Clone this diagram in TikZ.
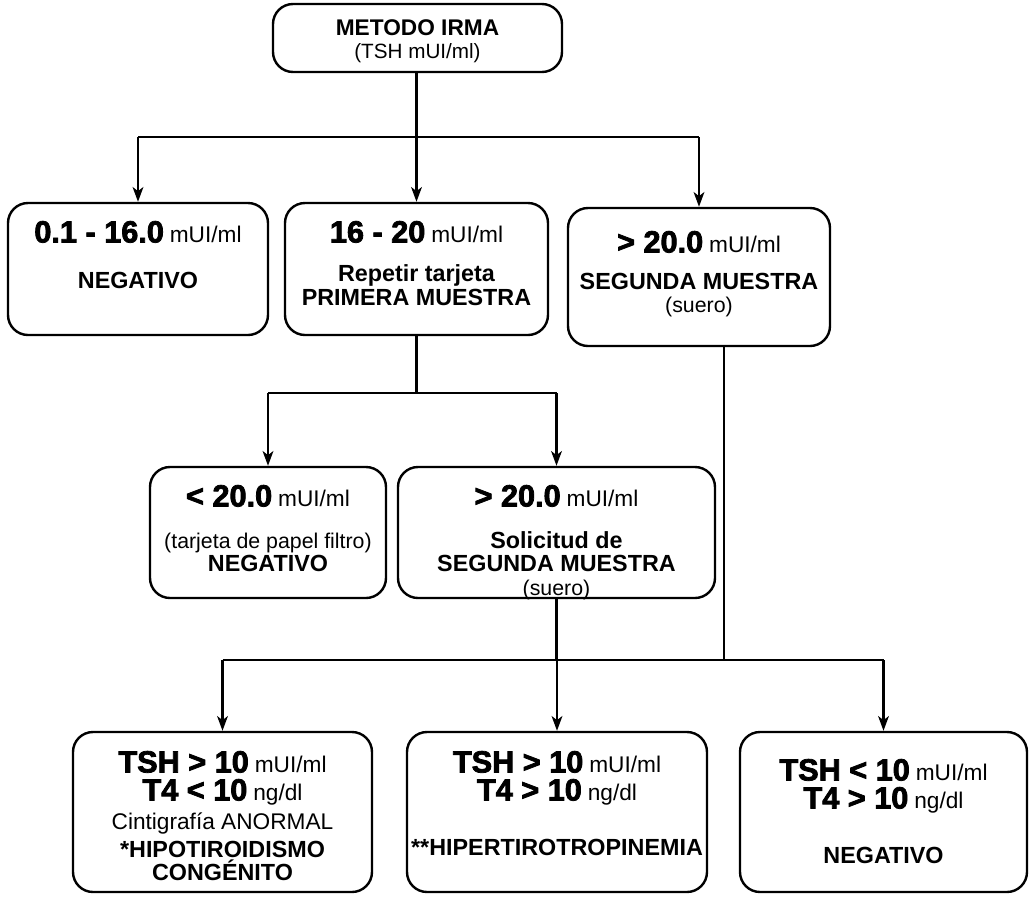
\documentclass[tikz,border=0pt]{standalone}
\usepackage{fontspec}
\setmainfont{Liberation Sans}
\newfontfamily\heavyfont{Liberation Sans}[BoldFeatures={FakeBold=2.5}]
\usetikzlibrary{arrows.meta,positioning}
\setlength{\lineskiplimit}{-5pt}

\begin{document}
\begin{tikzpicture}[x=0.75pt,y=-0.75pt]

% Big value followed by its unit
\def\val#1#2{{\heavyfont\bfseries\fontsize{23}{17.5}\selectfont #1} {\fontsize{17}{17.5}\selectfont #2}}
\def\bld#1{{\fontsize{17.5}{17.5}\selectfont\bfseries #1}}
% Styles
\tikzset{card/.style={draw, line width=1.8pt, rounded corners=15pt, inner sep=0pt},
        cardtext/.style={align=center, inner sep=0pt, font=\fontsize{16}{17.5}\selectfont},
        bus/.style={line width=1.8pt},
        flow/.style={line width=1.8pt, -{Stealth[length=11pt, width=8pt, inset=3pt]}}
        }

\useasboundingbox (0,0) rectangle (1029,897);

% Top box
\node[card, minimum width=216.75pt, minimum height=51pt] (irma) at (417.5,38) {};
\node[cardtext, below=12.5pt of irma.north] (irmat) {{\fontsize{17}{18.75}\selectfont\bfseries METODO IRMA}\\{\fontsize{15.5}{18.75}\selectfont (TSH mUI/ml)}};

% First row
\node[card, minimum width=195pt, minimum height=99pt] (neg) at (138,269) {};
\node[cardtext, below=14.25pt of neg.north] (negt) {\val{0.1 - 16.0}{mUI/ml}\\[17pt]\bld{NEGATIVO}};

\node[card, minimum width=197.25pt, minimum height=99pt] (rep) at (416.5,269) {};
\node[cardtext, below=14.25pt of rep.north] (rept) {\val{16 - 20}{mUI/ml}\\[12pt]\bld{Repetir tarjeta}\\\bld{PRIMERA MUESTRA}};

\node[card, minimum width=196.5pt, minimum height=103.5pt] (seg) at (699,277) {};
\node[cardtext, below=18pt of seg.north] (segt) {\val{> 20.0}{mUI/ml}\\[10pt]\bld{SEGUNDA MUESTRA}\\(suero)};

% Second row
\node[card, minimum width=177pt, minimum height=98.25pt] (filtro) at (268,532.5) {};
\node[cardtext, below=14.25pt of filtro.north] (filtrot) {\val{< 20.0}{mUI/ml}\\[14pt](tarjeta de papel filtro)\\\bld{NEGATIVO}};

\node[card, minimum width=237.75pt, minimum height=98.25pt] (sol) at (556.5,532.5) {};
\node[cardtext, below=14.25pt of sol.north] (solt) {\val{> 20.0}{mUI/ml}\\[14pt]\bld{Solicitud de}\\\bld{SEGUNDA MUESTRA}\\(suero)};

% Third row
\node[card, minimum width=224.25pt, minimum height=120pt] (hipo) at (222.5,812) {};
\node[cardtext, below=15pt of hipo.north] (hipot) {\val{TSH > 10}{mUI/ml}\\[3.5pt]\val{T4 < 10}{ng/dl}\\[4pt]{\fontsize{17}{17.5}\selectfont Cintigrafía ANORMAL}\\[3.5pt]\bld{*HIPOTIROIDISMO}\\\bld{CONGÉNITO}};

\node[card, minimum width=225pt, minimum height=120pt] (hiper) at (557,812) {};
\node[cardtext, below=15pt of hiper.north] (hipert) {\val{TSH > 10}{mUI/ml}\\[3.5pt]\val{T4 > 10}{ng/dl}\\[24pt]\bld{**HIPERTIROTROPINEMIA}};

\node[card, minimum width=215.25pt, minimum height=120pt] (negb) at (883.5,812) {};
\node[cardtext, below=21pt of negb.north] (negbt) {\val{TSH < 10}{mUI/ml}\\[3.5pt]\val{T4 > 10}{ng/dl}\\[24pt]\bld{NEGATIVO}};

% Connectors
\coordinate (bus1) at (0,137);
\coordinate (bus2) at (0,393);
\coordinate (bus3) at (0,660);

\draw[bus] (neg.north |- bus1) -- (seg.north |- bus1);
\draw[flow] (irma.south -| rep.north) -- (rep.north);
\draw[flow] (neg.north |- bus1) -- (neg.north);
\draw[flow] (seg.north |- bus1) -- (seg.north);

\draw[bus] (rep.south) -- (rep.south |- bus2);
\draw[bus] (filtro.north |- bus2) -- (sol.north |- bus2);
\draw[flow] (filtro.north |- bus2) -- (filtro.north);
\draw[flow] (sol.north |- bus2) -- (sol.north);

\draw[bus] (sol.south) -- (sol.south |- bus3);
\draw[bus] ([xshift=18.75pt]seg.south) -- ([xshift=18.75pt]seg.south |- bus3);
\draw[bus] (hipo.north |- bus3) -- (negb.north |- bus3);
\draw[flow] (hipo.north |- bus3) -- (hipo.north);
\draw[flow] (hiper.north |- bus3) -- (hiper.north);
\draw[flow] (negb.north |- bus3) -- (negb.north);

\end{tikzpicture}
\end{document}
